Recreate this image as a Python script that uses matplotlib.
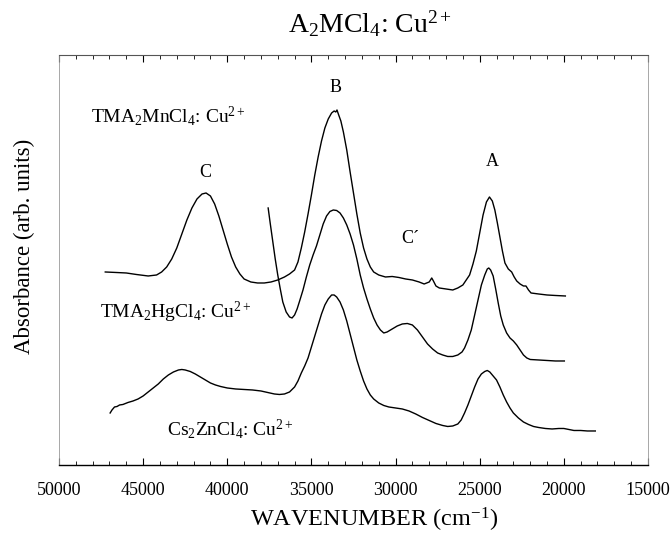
import matplotlib
matplotlib.use("Agg")
import matplotlib.pyplot as plt
from matplotlib.ticker import MultipleLocator

plt.rcParams['font.family'] = ['Liberation Serif', 'DejaVu Serif']
plt.rcParams['mathtext.fontset'] = 'custom'
plt.rcParams['mathtext.rm'] = 'Liberation Serif'
plt.rcParams['mathtext.it'] = 'Liberation Serif:italic'
plt.rcParams['mathtext.bf'] = 'Liberation Serif:bold'

# spectra: wavenumber (cm-1) and absorbance (arb. units, offset)
mn_wn = [47250, 46600, 46000, 45400, 44700, 44200, 43900, 43600, 43300, 43000,
         42700, 42400, 42100, 41800, 41500, 41260, 41000, 40750, 40500, 40250,
         40000, 39750, 39500, 39250, 39000, 38600, 38200, 37800, 37400, 37000,
         36600, 36300, 36000, 35800, 35600, 35400, 35200, 35000, 34800, 34600,
         34400, 34200, 34000, 33800, 33650, 33550, 33480, 33400, 33250, 33100,
         32900, 32700, 32500, 32300, 32100, 31900, 31700, 31500, 31300, 31000,
         30600, 30200, 29800, 29400, 29000, 28600, 28300, 28000, 27850, 27750,
         27600, 27400, 27000, 26600, 26300, 26000, 25800, 25600, 25400, 25200,
         25000, 24800, 24600, 24420, 24250, 24100, 23950, 23800, 23650, 23500,
         23300, 23100, 22950, 22800, 22600, 22400, 22250, 22100, 21950, 21500,
         21000, 20500, 19910]
mn_abs = [1.93, 1.925, 1.92, 1.905, 1.89, 1.90, 1.93, 1.98, 2.06, 2.17,
          2.31, 2.45, 2.57, 2.66, 2.71, 2.72, 2.69, 2.61, 2.49, 2.35,
          2.21, 2.08, 1.98, 1.91, 1.86, 1.83, 1.82, 1.82, 1.83, 1.85,
          1.88, 1.91, 1.95, 2.03, 2.17, 2.33, 2.51, 2.70, 2.90, 3.08,
          3.24, 3.37, 3.46, 3.52, 3.54, 3.53, 3.55, 3.51, 3.44, 3.33,
          3.15, 2.93, 2.72, 2.51, 2.32, 2.17, 2.06, 1.98, 1.93, 1.90,
          1.88, 1.885, 1.875, 1.86, 1.85, 1.83, 1.81, 1.83, 1.87, 1.84,
          1.79, 1.77, 1.76, 1.75, 1.77, 1.80, 1.85, 1.90, 2.01, 2.14,
          2.32, 2.50, 2.63, 2.68, 2.64, 2.55, 2.42, 2.28, 2.14, 2.02,
          1.96, 1.93, 1.88, 1.84, 1.81, 1.79, 1.79, 1.75, 1.72, 1.71,
          1.70, 1.695, 1.69]

hg_wn = [37570, 37450, 37300, 37150, 37000, 36850, 36700, 36500, 36300, 36150,
         36000, 35850, 35700, 35500, 35300, 35100, 34900, 34700, 34500, 34300,
         34100, 33900, 33700, 33500, 33300, 33100, 32900, 32700, 32500, 32300,
         32100, 31900, 31700, 31500, 31300, 31100, 30900, 30700, 30500, 30200,
         29900, 29600, 29300, 29000, 28700, 28400, 28100, 27800, 27500, 27200,
         26900, 26600, 26300, 26050, 25900, 25700, 25500, 25300, 25100, 24900,
         24700, 24550, 24460, 24350, 24200, 24050, 23900, 23750, 23600, 23400,
         23200, 23000, 22800, 22600, 22400, 22200, 22000, 21500, 21000, 20500,
         19970]
hg_abs = [2.57, 2.42, 2.24, 2.06, 1.90, 1.76, 1.63, 1.53, 1.48, 1.47,
          1.50, 1.56, 1.64, 1.75, 1.88, 2.00, 2.10, 2.19, 2.30, 2.41,
          2.49, 2.535, 2.55, 2.545, 2.52, 2.47, 2.40, 2.31, 2.20, 2.06,
          1.90, 1.77, 1.66, 1.56, 1.47, 1.40, 1.35, 1.32, 1.33, 1.36,
          1.39, 1.41, 1.415, 1.40, 1.35, 1.28, 1.21, 1.16, 1.12, 1.10,
          1.085, 1.085, 1.10, 1.13, 1.17, 1.25, 1.35, 1.50, 1.65, 1.80,
          1.90, 1.96, 1.97, 1.95, 1.89, 1.76, 1.62, 1.49, 1.40, 1.32,
          1.27, 1.24, 1.20, 1.15, 1.10, 1.07, 1.055, 1.05, 1.045, 1.04,
          1.04]

cs_wn = [46960, 46850, 46700, 46550, 46400, 46200, 45900, 45600, 45300, 45000,
         44700, 44400, 44100, 43800, 43500, 43200, 42900, 42700, 42500, 42200,
         41900, 41600, 41300, 41000, 40700, 40400, 40000, 39500, 39000, 38500,
         38000, 37600, 37200, 36900, 36600, 36300, 36000, 35800, 35600, 35400,
         35200, 35000, 34800, 34600, 34400, 34200, 34000, 33800, 33650, 33500,
         33300, 33100, 32900, 32700, 32500, 32300, 32100, 31900, 31700, 31500,
         31300, 31000, 30700, 30400, 30000, 29600, 29200, 28800, 28400, 28000,
         27600, 27200, 26900, 26600, 26300, 26100, 25900, 25700, 25500, 25300,
         25100, 24900, 24700, 24550, 24400, 24200, 24000, 23800, 23600, 23400,
         23200, 23000, 22700, 22400, 22100, 21800, 21500, 21100, 20700, 20300,
         20000, 19700, 19400, 19000, 18600, 18130]
cs_abs = [0.52, 0.55, 0.58, 0.585, 0.60, 0.605, 0.625, 0.64, 0.66, 0.69,
          0.73, 0.77, 0.81, 0.86, 0.90, 0.93, 0.95, 0.955, 0.95, 0.935,
          0.91, 0.88, 0.85, 0.82, 0.80, 0.785, 0.77, 0.76, 0.755, 0.75,
          0.74, 0.725, 0.71, 0.705, 0.71, 0.73, 0.78, 0.84, 0.92, 0.99,
          1.07, 1.18, 1.29, 1.40, 1.51, 1.60, 1.66, 1.70, 1.70, 1.68,
          1.63, 1.55, 1.44, 1.31, 1.18, 1.05, 0.94, 0.84, 0.76, 0.70,
          0.66, 0.62, 0.595, 0.58, 0.57, 0.56, 0.54, 0.51, 0.475, 0.445,
          0.415, 0.395, 0.385, 0.39, 0.41, 0.45, 0.52, 0.60, 0.69, 0.78,
          0.86, 0.91, 0.935, 0.945, 0.93, 0.89, 0.85, 0.78, 0.70, 0.63,
          0.57, 0.52, 0.47, 0.43, 0.405, 0.385, 0.375, 0.365, 0.36, 0.365,
          0.365, 0.355, 0.345, 0.345, 0.34, 0.34]

fig = plt.figure(figsize=(6.71, 5.36), dpi=100)
ax = fig.add_axes([0.0879, 0.1325, 0.8778, 0.7649])

for wn, a in [(mn_wn, mn_abs), (hg_wn, hg_abs), (cs_wn, cs_abs)]:
    ax.plot(wn, a, color='black', lw=1.0)

ax.set_xlim(50000, 15000)
ax.set_ylim(0, 4.10)
ax.xaxis.set_major_locator(MultipleLocator(5000))
ax.xaxis.set_minor_locator(MultipleLocator(1000))
ax.tick_params(axis='x', which='major', direction='in', length=5, width=0.8,
               top=True, pad=12, labelsize=13)
ax.tick_params(axis='x', which='minor', direction='in', length=3, width=0.6, top=True)
ax.set_yticks([])
ax.spines['bottom'].set_linewidth(1.0)
ax.spines['top'].set_color('#555555')
ax.spines['top'].set_linewidth(0.8)
for s in ['left', 'right']:
    ax.spines[s].set_color('#999999')
    ax.spines[s].set_linewidth(0.6)

cu = r'Cu$^{\mathregular{2+}}$'

# sample names and band labels
ax.text(48084, 3.43, r'TMA$_2$MnCl$_4$: ' + cu, fontsize=14, va='baseline')
ax.text(47550, 1.47, r'TMA$_2$HgCl$_4$: ' + cu, fontsize=14, va='baseline')
ax.text(43595, 0.30, r'Cs$_2$ZnCl$_4$: ' + cu, fontsize=14, va='baseline')
ax.text(33588, 3.73, 'B', fontsize=13, ha='center', va='baseline')
ax.text(41323, 2.88, 'C', fontsize=13, ha='center', va='baseline')
ax.text(24277, 2.99, 'A', fontsize=13, ha='center', va='baseline')
ax.text(29639, 2.22, 'C\u00b4', fontsize=13, ha='left', va='baseline')

fig.text(370 / 671, 1 - 33 / 536, r'A$_2$MCl$_4$: ' + cu, fontsize=20,
         ha='center', va='baseline')
fig.text(374 / 671, 1 - 527 / 536, r'WAVENUMBER (cm$^{\mathregular{-1}}$)', fontsize=17.5,
         ha='center', va='baseline')
fig.text(24 / 671, 1 - 246 / 536, 'Absorbance (arb. units)',
         fontsize=16.5, rotation=90, ha='center', va='center')

fig.savefig('out.png', dpi=100)
